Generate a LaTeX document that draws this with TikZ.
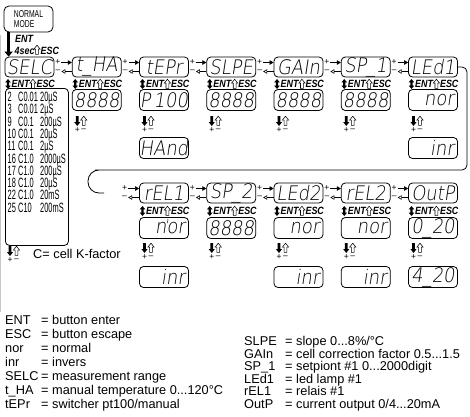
\documentclass[tikz,border=0pt]{standalone}
\usepackage{fontspec}
\setmainfont{Liberation Sans}
\newfontfamily\segfont{DejaVu Sans ExtraLight}[FakeSlant=0.15,FakeStretch=0.9]
\newfontfamily\narrowfont{Liberation Sans}[FakeStretch=0.55]
\newfontfamily\modefont{Liberation Sans}[FakeStretch=0.68]
\newfontfamily\labfont{Liberation Sans}[FakeStretch=0.85]
\usetikzlibrary{arrows.meta,positioning,calc}
\newcommand\tdots{...}
\tikzset{
  disp/.style={draw,rounded corners=4pt,line width=0.8pt,minimum width=49pt,
    minimum height=20pt,inner sep=0pt,font=\segfont\fontsize{20}{20}\selectfont},
  val/.style={disp,minimum height=21pt},
  valr/.style={val,text width=42pt,align=right},
  modebox/.style={draw,rounded corners=5pt,line width=0.8pt,minimum width=49pt,
    minimum height=26pt,inner sep=0pt,align=left,font=\modefont\fontsize{10}{9.5}\selectfont},
  lab/.style={anchor=west,inner sep=0pt,font=\labfont\bfseries\itshape\fontsize{10.5}{10.5}\selectfont},
  pm/.style={inner sep=0pt,font=\fontsize{8.5}{8.5}\selectfont},
  rangerow/.style={anchor=base west,inner sep=0pt,font=\narrowfont\fontsize{13.5}{13.5}\selectfont},
  fwd/.style={-{Triangle[length=4pt,width=4.5pt]},line width=0.6pt},
  back/.style={-{Triangle[open,length=4pt,width=4.5pt]},line width=0.6pt},
  entflow/.style={line width=3.2pt,-{Triangle[length=5pt,width=8pt]}},
  loopline/.style={line width=0.8pt,rounded corners=5pt},
  legend/.style={anchor=base west,inner sep=0pt,font=\fontsize{12.75}{14}\selectfont},
  % key marks
  pics/entmark/.style={code={
    \fill (0,-5) -- (2.8,-1.6) -- (1.1,-1.6) -- (1.1,1.6) -- (2.8,1.6) -- (0,5)
      -- (-2.8,1.6) -- (-1.1,1.6) -- (-1.1,-1.6) -- (-2.8,-1.6) -- cycle;
  }},
  pics/escmark/.style={code={
    \draw[line width=0.55pt] (0,-4.8) -- (3.1,-0.9) -- (1.4,-0.9) -- (1.4,4.4)
      -- (-1.4,4.4) -- (-1.4,-0.9) -- (-3.1,-0.9) -- cycle;
  }},
  pics/plusmark/.style={code={
    \fill (0,5) -- (3.1,1) -- (1.4,1) -- (1.4,-5) -- (-1.4,-5) -- (-1.4,1) -- (-3.1,1) -- cycle;
  }},
}
\begin{document}
\begin{tikzpicture}[x=1pt,y=-1pt]
\useasboundingbox (0,0) rectangle (470,416);
\draw[gray!45,line width=0.8pt] (0.5,35) -- (0.5,312);

% entry from normal mode
\node[modebox] (nm) at (28.5,19) {NORMAL\\MODE};
\foreach \col/\nm/\txt in {0/sel/SELC,1/tha/t\_HA,2/tep/tEPr,3/slp/SLPE,4/gai/GAIn,5/spa/SP\_1,6/lea/LEd1}
  \node[disp] (\nm) at ({29.5+67.25*\col},67) {\txt};
\foreach \col/\nm/\txt in {2/rea/rEL1,3/spb/SP\_2,4/leb/LEd2,5/reb/rEL2,6/out/OutP}
  \node[disp] (\nm) at ({29.5+67.25*\col},193) {\txt};

\draw[entflow] ([xshift=5pt]nm.south west) -- ([xshift=4pt]sel.north west);
\node[lab] (entlbl) at (15,38.5) {ENT};
\node[lab] (seclbl) at (14.5,50.5) {4sec};
\pic at (37,50) {escmark};
\node[lab] (esclbl) at (40.5,50.5) {ESC};

% values
\foreach \col/\yy/\nm/\st/\txt in {1/100/thv/val/8888,2/100/tev/val/P\hspace{3pt}100,3/100/slv/val/8888,
    4/100/gav/val/8888,5/100/spv/val/8888,6/100/lev/valr/nor,2/148/tew/val/HAnd,6/148/lew/valr/inr,
    2/228/rav/valr/nor,3/228/sbv/val/8888,4/228/lbv/valr/nor,5/228/rbv/valr/nor,6/228/ouv/val/0\_20,
    2/277/raw/valr/inr,4/277/lbw/valr/inr,5/277/rbw/valr/inr,6/277/ouw/val/4\_20}
  \node[\st] (\nm) at ({29.5+67.25*\col},\yy) {\txt};
\draw[line width=0.5pt] ([xshift=4pt,yshift=9pt]rav.center) -- ++(-0.5,4);

% range list
\node[draw,rounded corners=4pt,line width=0.8pt,minimum width=63pt,minimum height=157pt,
  inner sep=0pt,anchor=north west] (sellist) at (5,88) {};
\foreach \n/\cc/\rr [count=\i from 0] in {2/C0.01/20µS,3/C0.01/2µS,9/C0.1/200µS,10/C0.1/20µS,
    11/C0.1/2µS,16/C1.0/2000µS,17/C1.0/200µS,18/C1.0/20µS,22/C1.0/20mS,25/C10/200mS}
  \node[rangerow] (row-\i) at (7.5,101.5+12.3*\i) {\makebox[10.5pt][l]{\n}\makebox[22pt][l]{\cc}\rr};

% ENT / ESC marks
\foreach \col/\yy in {0/84,1/84,2/84,3/84,4/84,5/84,6/84,2/211,3/211,4/211,5/211,6/211}{
  \pgfmathsetmacro\lx{5+67.25*\col}
  \pic at (\lx+3,\yy) {entmark};
  \node[lab] (e-\col-\yy) at (\lx+6.5,\yy) {ENT\hspace{7pt}ESC};
  \pic at (\lx+27.9,\yy) {escmark};
}
\foreach \col/\yy in {1/121,2/121,3/121,4/121,5/121,6/121,0/251,2/248,3/248,4/248,5/248,6/248}{
  \pgfmathsetmacro\lx{5+67.25*\col}
  \pic at (\lx+5,\yy) {plusmark};
  \pic at (\lx+11.5,\yy) {escmark};
  \node[pm] (pl-\col-\yy) at (\lx+5,\yy+9.5) {+};
  \node[pm] (mi-\col-\yy) at (\lx+11.5,\yy+9.5) {--};
}

% + / - steps
\foreach \a/\b in {sel/tha,tha/tep,tep/slp,slp/gai,gai/spa,spa/lea,rea/spb,spb/leb,leb/reb,reb/out}{
  \node[pm] (p-\a) at ([xshift=3.5pt,yshift=4.5pt]\a.east) {+};
  \node[pm] (m-\a) at ([xshift=3.5pt,yshift=-4.5pt]\a.east) {--};
  \draw[fwd] ([xshift=7pt,yshift=4.5pt]\a.east) -- ([yshift=4.5pt]\b.west);
  \draw[back] ([yshift=-4.5pt]\b.west) -- ([xshift=7pt,yshift=-4.5pt]\a.east);
}
\draw[loopline] (lea.east) -| (467,170) -- (100,170) [rounded corners=11pt] -- (88,170) -- (88,193)
  -- (104,193) coordinate (loopend);
\node[pm] (p-in) at ([xshift=-14.5pt,yshift=4.5pt]rea.west) {+};
\node[pm] (m-in) at ([xshift=-14.5pt,yshift=-4.5pt]rea.west) {--};
\draw[fwd] ([xshift=-11pt,yshift=4.5pt]rea.west) -- ([yshift=4.5pt]rea.west);
\draw[back] ([yshift=-4.5pt]rea.west) -- ([xshift=-11pt,yshift=-4.5pt]rea.west);

\node[anchor=base west,inner sep=0pt,font=\fontsize{12.75}{14}\selectfont] (kfac) at (33,258) {C= cell K-factor};

% legend
\foreach \k/\v [count=\i from 0] in {ENT/{button enter},ESC/{button escape},nor/{normal},inr/{invers},
    SELC/{measurement range},t\_HA/{manual temperature 0\tdots120°C},tEPr/{switcher pt100/manual}}
  \node[legend] (la-\i) at (5,324.5+14*\i) {\makebox[36pt][l]{\k}= \v};
\foreach \k/\v [count=\i from 0] in {SLPE/{slope 0\tdots8\%/°C},GAIn/{cell correction factor 0.5\tdots1.5},
    SP\_1/{setpiont \#1 0\tdots2000digit},LEd1/{led lamp \#1},rEL1/{relais \#1},OutP/{current output 0/4\tdots20mA}}
  \node[legend] (lb-\i) at (244,345.5+12.6*\i) {\makebox[41pt][l]{\k}= \v};
\end{tikzpicture}
\end{document}
